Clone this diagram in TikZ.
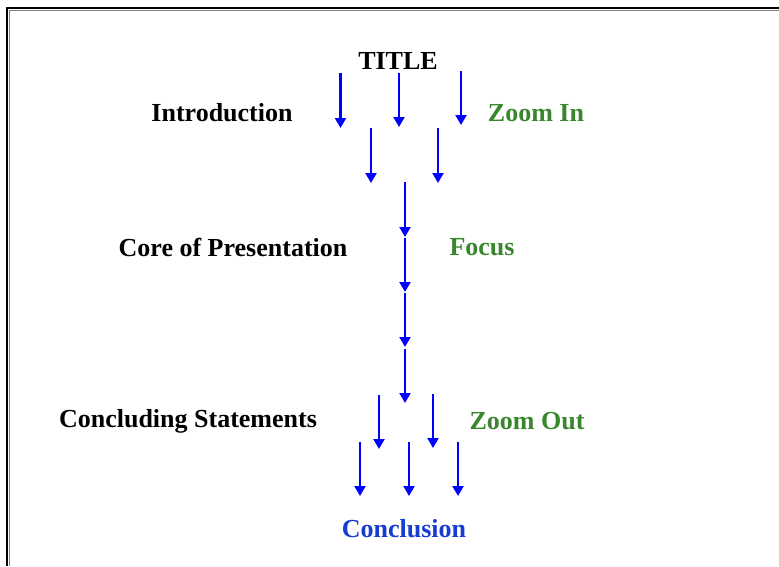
\documentclass[tikz,border=0pt]{standalone}
\usepackage{fontspec}
\setmainfont{Liberation Serif}
\usetikzlibrary{arrows.meta}
\definecolor{zgreen}{RGB}{58,134,46}
\definecolor{cblue}{RGB}{22,60,208}
\begin{document}
\begin{tikzpicture}[x=1pt,y=-1pt,
  lbl/.style={font=\fontsize{26}{28}\selectfont\bfseries, inner sep=0pt, anchor=center},
  arr/.style={blue, line width=2.2pt, -{Triangle[length=10pt,width=11pt]}}]
\useasboundingbox (0,0) rectangle (779,566);
\draw[line width=2pt, black] (7,566) -- (7,8) -- (779,8);
\draw[line width=0.6pt, gray] (9,566) -- (9,10) -- (779,10);
% labels
\node[lbl] (title) at (398,61) {TITLE};
\node[lbl] (intro) at (222,113) {Introduction};
\node[lbl, text=zgreen] (zin) at (536,113) {Zoom In};
\node[lbl] (core) at (233,247) {Core of Presentation};
\node[lbl, text=zgreen] (focus) at (482,247) {Focus};
\node[lbl] (concl) at (188,421) {Concluding Statements};
\node[lbl, text=zgreen] (zout) at (527,421) {Zoom Out};
\node[lbl, text=cblue] (conclusion) at (404,529) {Conclusion};
% arrow coordinates
\coordinate (a1s) at (340.5,73); \coordinate (a1e) at (340.5,128);
\coordinate (a2s) at (399,73); \coordinate (a2e) at (399,127);
\coordinate (a3s) at (461,71); \coordinate (a3e) at (461,125);
\coordinate (b1s) at (371,128); \coordinate (b1e) at (371,183);
\coordinate (b2s) at (438,128); \coordinate (b2e) at (438,183);
\coordinate (c1s) at (405,182); \coordinate (c1e) at (405,237);
\coordinate (c2s) at (405,238); \coordinate (c2e) at (405,292);
\coordinate (c3s) at (405,293); \coordinate (c3e) at (405,347);
\coordinate (c4s) at (405,349); \coordinate (c4e) at (405,403);
\coordinate (d1s) at (379,395); \coordinate (d1e) at (379,449);
\coordinate (d2s) at (433,394); \coordinate (d2e) at (433,448);
\coordinate (e1s) at (360,442); \coordinate (e1e) at (360,496);
\coordinate (e2s) at (409,442); \coordinate (e2e) at (409,496);
\coordinate (e3s) at (458,442); \coordinate (e3e) at (458,496);
\foreach \a in {a1,a2,a3,b1,b2,c1,c2,c3,c4,d1,d2,e1,e2,e3}
  \draw[arr] (\a s) -- (\a e);
\end{tikzpicture}
\end{document}
